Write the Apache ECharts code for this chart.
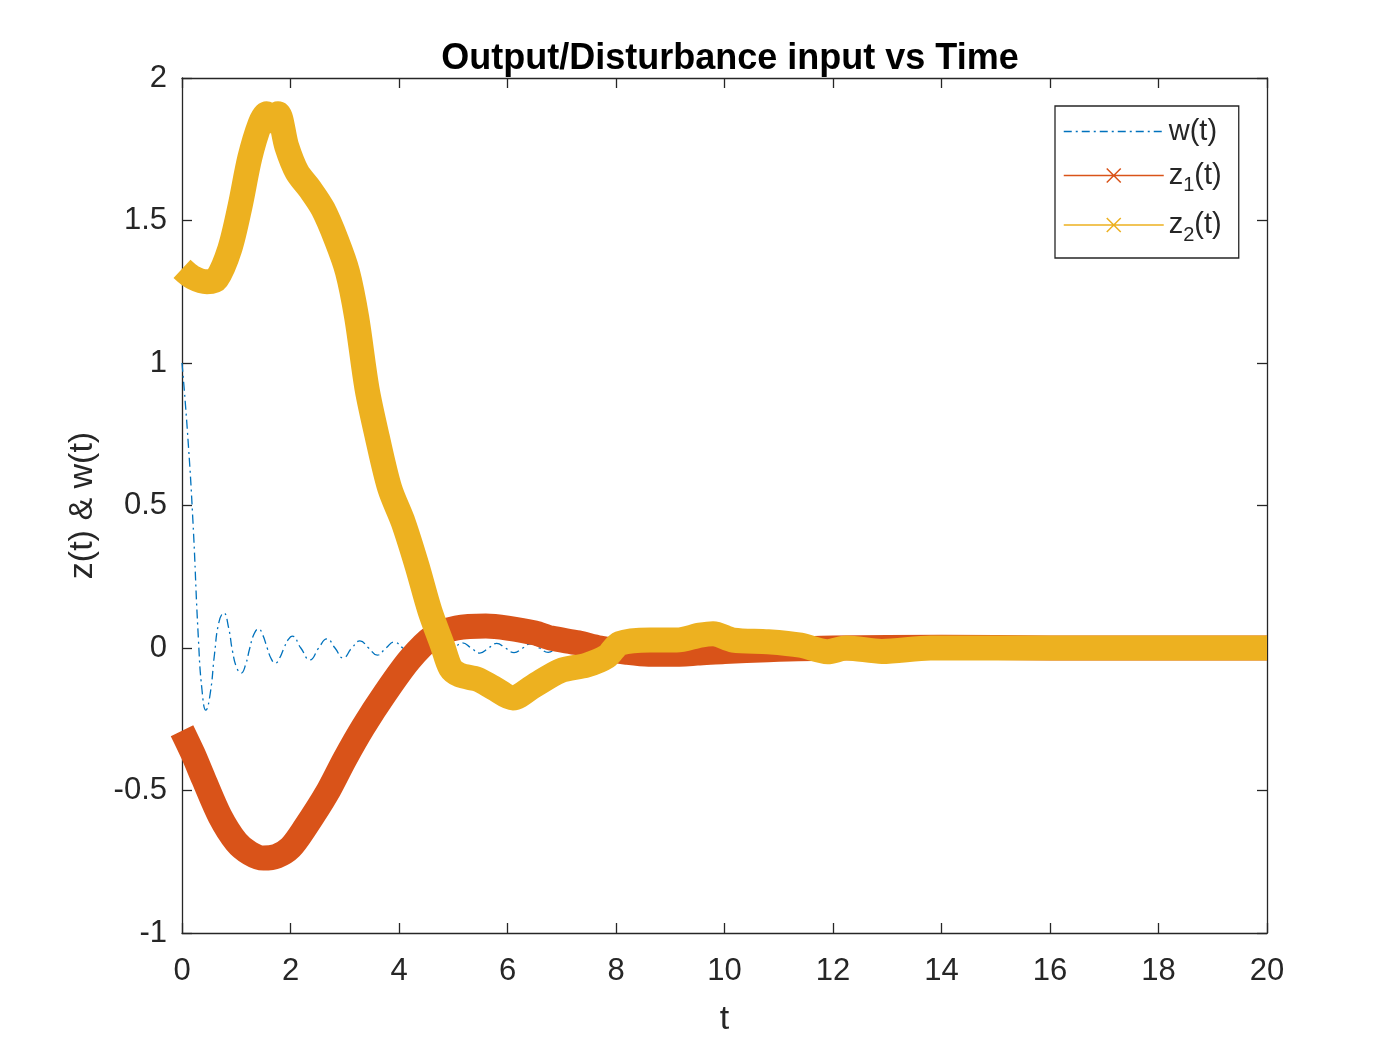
<!DOCTYPE html>
<html>
<head>
<meta charset="utf-8">
<title>Output/Disturbance input vs Time</title>
<script src="https://cdn.jsdelivr.net/npm/echarts@6/dist/echarts.min.js"></script>
<style>
	html, body { margin: 0; padding: 0; background: #fff; }
	#main { width: 1400px; height: 1050px; }
</style>
</head>
<body>
<div id="main"></div>
<script>
// 数据
var tW = [0, 0.1, 0.2, 0.3, 0.37, 0.44, 0.52, 0.6, 0.68, 0.77, 0.86, 0.93,
	1.01, 1.09, 1.17, 1.25, 1.33, 1.41, 1.49, 1.57, 1.65, 1.72, 1.80, 1.88,
	1.96, 2.03, 2.19, 2.36, 2.52, 2.67, 2.82, 2.97, 3.13, 3.28, 3.44, 3.60,
	3.76, 3.91, 4.07, 4.23, 4.39, 4.55, 4.70, 4.86, 5.02, 5.17, 5.33, 5.49,
	5.65, 5.80, 5.96, 6.12, 6.28, 6.43, 6.59, 6.75, 6.91, 7.06, 7.22, 7.38,
	7.54, 7.69, 7.85, 8.0, 8.3, 20];
var wVals = [1.0, 0.76, 0.45, 0.04, -0.15, -0.218, -0.16, -0.02, 0.09, 0.123, 0.07, -0.01,
	-0.07, -0.088, -0.06, 0, 0.05, 0.067, 0.045, 0, -0.04, -0.053, -0.035, 0,
	0.03, 0.042, 0, -0.042, 0, 0.032, 0, -0.035, 0, 0.025, 0, -0.025,
	0, 0.021, 0, -0.022, 0, 0.02, 0, -0.02, 0, 0.018, 0, -0.018,
	0, 0.016, 0, -0.016, 0, 0.015, 0, -0.015, 0, 0.013, 0, -0.013,
	0, 0.012, 0, -0.012, 0, 0];

var tZ1 = [0, 0.2, 0.4, 0.7, 1.0, 1.25, 1.5, 1.75, 2.0, 2.27, 2.67, 3.0, 3.34, 3.74, 4.2,
	4.63, 5.06, 5.6, 6.0, 6.5, 6.8, 7.3, 7.7, 8.2, 8.6, 9.0, 9.5, 10.0, 10.8, 12.0,
	14, 16, 18, 20];
var z1Vals = [-0.29, -0.37, -0.46, -0.59, -0.68, -0.72, -0.737, -0.73, -0.70, -0.63, -0.51, -0.39, -0.277, -0.16, -0.04,
	0.04, 0.07, 0.077, 0.07, 0.053, 0.035, 0.018, 0, -0.015, -0.022, -0.022, -0.018, -0.012, -0.006, 0,
	0.003, 0, 0, 0];

var tZ2 = [0, 0.2, 0.46, 0.64, 0.88, 1.07, 1.25, 1.44, 1.56, 1.66, 1.77, 1.93, 2.12, 2.36, 2.6,
	2.85, 3.05, 3.22, 3.41, 3.6, 3.83, 4.08, 4.33, 4.57, 4.8, 4.95, 5.12, 5.45, 5.74, 6.1,
	6.47, 6.97, 7.46, 7.83, 8.07, 8.63, 9.12, 9.55, 9.79, 10.16, 10.8, 11.4, 11.9, 12.25, 12.9,
	13.8, 15.3, 17, 20];
var z2Vals = [1.33, 1.30, 1.285, 1.295, 1.40, 1.55, 1.72, 1.84, 1.875, 1.85, 1.875, 1.76, 1.67, 1.61, 1.54,
	1.43, 1.32, 1.16, 0.91, 0.74, 0.56, 0.44, 0.29, 0.13, 0.01, -0.07, -0.095, -0.11, -0.14, -0.175,
	-0.135, -0.08, -0.06, -0.03, 0.016, 0.028, 0.028, 0.045, 0.05, 0.028, 0.022, 0.01, -0.013, 0, -0.012,
	0, 0, 0, 0];

var seriesNames = ['w(t)', 'z1(t)', 'z2(t)'];
var colors = ['#0072BD', '#D95319', '#EDB120'];

function pairs(ts, vs) {
	return ts.map(function(t, i) { return [t, vs[i]]; });
}

var FONT = '"Liberation Sans", Arial, sans-serif';
var AXIS_COLOR = '#262626';

var myChart = echarts.init(document.getElementById('main'), null, { renderer: 'canvas' });

var baseX = {
	type: 'value', min: 0, max: 20, interval: 2,
	splitLine: { show: false },
	axisLine: { show: true, onZero: false, lineStyle: { color: AXIS_COLOR, width: 1.3 } },
	axisTick: { show: true, inside: true, length: 10, lineStyle: { color: AXIS_COLOR, width: 1.3 } }
};
var baseY = {
	type: 'value', min: -1, max: 2, interval: 0.5,
	splitLine: { show: false },
	axisLine: { show: true, onZero: false, lineStyle: { color: AXIS_COLOR, width: 1.3 } },
	axisTick: { show: true, inside: true, length: 10, lineStyle: { color: AXIS_COLOR, width: 1.3 } }
};

var option = {
	backgroundColor: '#fff',
	animation: false,
	title: {
		text: 'Output/Disturbance input vs Time',
		left: 725,
		top: 36,
		textAlign: 'center',
		textStyle: { fontFamily: FONT, fontWeight: 'bold', fontSize: 36, color: '#000' }
	},
	grid: { left: 182, right: 133, top: 78, bottom: 117, containLabel: false },
	xAxis: [
		Object.assign({}, baseX, {
			position: 'bottom',
			name: 't', nameLocation: 'middle', nameGap: 70,
			nameTextStyle: { fontFamily: FONT, fontSize: 34, color: AXIS_COLOR },
			axisLabel: { fontFamily: FONT, fontSize: 31, color: AXIS_COLOR, margin: 23 }
		}),
		Object.assign({}, baseX, { position: 'top', axisLabel: { show: false } })
	],
	yAxis: [
		Object.assign({}, baseY, {
			position: 'left',
			name: 'z(t) & w(t)', nameLocation: 'middle', nameGap: 82,
			nameTextStyle: { fontFamily: FONT, fontSize: 34, color: AXIS_COLOR },
			axisLabel: { fontFamily: FONT, fontSize: 31, color: AXIS_COLOR, margin: 15 }
		}),
		Object.assign({}, baseY, { position: 'right', axisLabel: { show: false } })
	],
	legend: {
		orient: 'vertical',
		left: 1055,
		top: 106,
		padding: [11, 17, 13, 8],
		itemGap: 15,
		itemWidth: 100,
		itemHeight: 14,
		backgroundColor: '#fff',
		borderColor: AXIS_COLOR,
		borderWidth: 1.3,
		borderRadius: 0,
		selectedMode: false,
		data: [
			{ name: seriesNames[0], icon: 'path://M0,0L0.01,0M0,7L100,7M0,14L0.01,14',
				itemStyle: { color: 'rgba(0,0,0,0)', borderColor: colors[0], borderWidth: 1.3, borderType: [8, 4, 2, 4] } },
			{ name: seriesNames[1], icon: 'path://M0,7L100,7M43,0L57,14M43,14L57,0',
				itemStyle: { color: 'rgba(0,0,0,0)', borderColor: colors[1], borderWidth: 1.5 } },
			{ name: seriesNames[2], icon: 'path://M0,7L100,7M43,0L57,14M43,14L57,0',
				itemStyle: { color: 'rgba(0,0,0,0)', borderColor: colors[2], borderWidth: 1.5 } }
		],
		formatter: function(name) {
			if (name === 'w(t)') return '{n|w(t)}';
			return '{n|z}{s|' + name.charAt(1) + '}{n|(t)}';
		},
		textStyle: {
			fontFamily: FONT, fontSize: 29, color: AXIS_COLOR,
			rich: {
				n: { fontFamily: FONT, fontSize: 29, color: AXIS_COLOR },
				s: { fontFamily: FONT, fontSize: 20, color: AXIS_COLOR, padding: [20, 0, 0, 0] }
			}
		}
	},
	series: [
		{
			name: seriesNames[0], type: 'line', xAxisIndex: 0, yAxisIndex: 0,
			data: pairs(tW, wVals),
			smooth: 0.5, symbol: 'none', clip: false,
			lineStyle: { color: colors[0], width: 1.3, type: [9, 4, 2, 4] },
			itemStyle: { color: colors[0] },
			z: 2
		},
		{
			name: seriesNames[1], type: 'line', xAxisIndex: 0, yAxisIndex: 0,
			data: pairs(tZ1, z1Vals),
			smooth: 0.3, symbol: 'none', clip: false,
			lineStyle: { color: colors[1], width: 25, cap: 'butt', join: 'round' },
			itemStyle: { color: colors[1] },
			z: 3
		},
		{
			name: seriesNames[2], type: 'line', xAxisIndex: 0, yAxisIndex: 0,
			data: pairs(tZ2, z2Vals),
			smooth: 0.3, symbol: 'none', clip: false,
			lineStyle: { color: colors[2], width: 25, cap: 'butt', join: 'round' },
			itemStyle: { color: colors[2] },
			z: 4
		}
	]
};
myChart.setOption(option);

window.onresize = function() {
	myChart.resize();
};
</script>
</body>
</html>
